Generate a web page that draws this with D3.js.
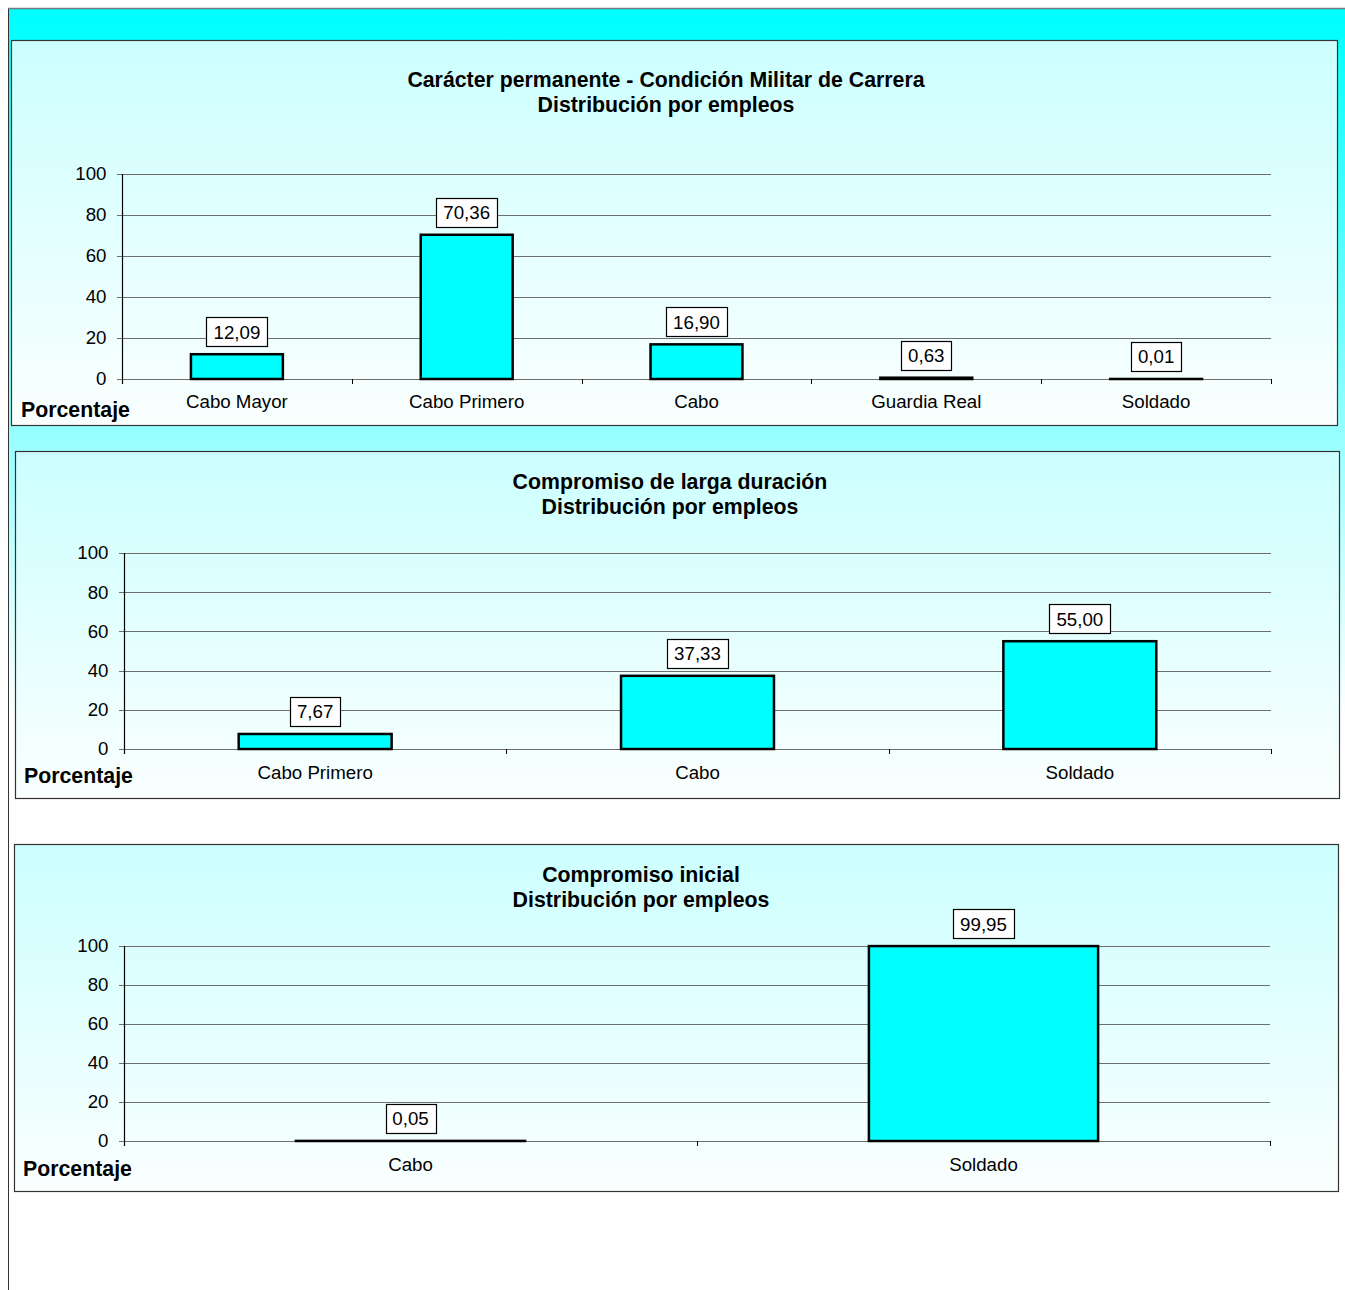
<!DOCTYPE html>
<html>
<head>
<meta charset="utf-8">
<script src="https://cdn.jsdelivr.net/npm/d3@7"></script>
<style>
  body { margin: 0; background: #fff; }
  svg { display: block; font-family: Arial, "Liberation Sans", sans-serif; }
</style>
</head>
<body>
<script>
"use strict";
(function(){
    // chart 1
    const titles1 = ["Carácter permanente - Condición Militar de Carrera", "Distribución por empleos"];
    const cats1 = ["Cabo Mayor", "Cabo Primero", "Cabo", "Guardia Real", "Soldado"];
    const vals1 = [12.09, 70.36, 16.90, 0.63, 0.01];

    // chart 2
    const titles2 = ["Compromiso de larga duración", "Distribución por empleos"];
    const cats2 = ["Cabo Primero", "Cabo", "Soldado"];
    const vals2 = [7.67, 37.33, 55.00];

    // chart 3
    const titles3 = ["Compromiso inicial", "Distribución por empleos"];
    const cats3 = ["Cabo", "Soldado"];
    const vals3 = [0.05, 99.95];

    const yTicks = [0, 20, 40, 60, 80, 100];
    const yLabel = "Porcentaje";

    const W = 1345, H = 1290;

    const svg = d3.select("body").append("svg")
        .attr("width", W)
        .attr("height", H);

    const defs = svg.append("defs");
    const outerGrad = defs.append("linearGradient")
        .attr("id", "outerGrad")
        .attr("gradientUnits", "userSpaceOnUse")
        .attr("x1", 0).attr("y1", 20).attr("x2", 0).attr("y2", 720);
    outerGrad.append("stop").attr("offset", "0").attr("stop-color", "#00ffff");
    outerGrad.append("stop").attr("offset", "1").attr("stop-color", "#ffffff");

    const panelGrad = defs.append("linearGradient")
        .attr("id", "panelGrad")
        .attr("x1", 0).attr("y1", 0).attr("x2", 0).attr("y2", 1);
    panelGrad.append("stop").attr("offset", "0").attr("stop-color", "#ccffff");
    panelGrad.append("stop").attr("offset", "1").attr("stop-color", "#fafffe");

    // outer frame
    svg.append("rect")
        .attr("x", 8.5).attr("y", 8.5)
        .attr("width", W + 10).attr("height", H + 10)
        .attr("fill", "url(#outerGrad)")
        .attr("stroke", "#333")
        .attr("stroke-width", 1);
    svg.append("line")
        .attr("x1", 8).attr("x2", W).attr("y1", 8.5).attr("y2", 8.5)
        .attr("stroke", "#777").attr("stroke-width", 1.5);

    drawChart({
        titles: titles1, cats: cats1, vals: vals1,
        panel: { x: 11, y: 40, w: 1326, h: 385 },
        plot: { left: 122, right: 1271, top: 174, bottom: 379 },
        titleX: 666, titleY: 80,
        catY: 401, labelPos: { x: 21, y: 410 }
    });

    drawChart({
        titles: titles2, cats: cats2, vals: vals2,
        panel: { x: 15, y: 451, w: 1324, h: 347 },
        plot: { left: 124, right: 1271, top: 553, bottom: 749 },
        titleX: 670, titleY: 482,
        catY: 772, labelPos: { x: 24, y: 776 }
    });

    drawChart({
        titles: titles3, cats: cats3, vals: vals3,
        panel: { x: 14, y: 844, w: 1324, h: 347 },
        plot: { left: 124, right: 1270, top: 946, bottom: 1141 },
        titleX: 641, titleY: 875,
        catY: 1164, labelPos: { x: 23, y: 1169 }
    });

    function drawChart(cfg) {
        const g = svg.append("g");
        const p = cfg.plot;

        g.append("rect")
            .attr("x", cfg.panel.x + 0.5).attr("y", cfg.panel.y + 0.5)
            .attr("width", cfg.panel.w).attr("height", cfg.panel.h)
            .attr("fill", "url(#panelGrad)")
            .attr("stroke", "#333")
            .attr("stroke-width", 1.2);

        cfg.titles.forEach((t, i) => {
            g.append("text")
                .attr("x", cfg.titleX)
                .attr("y", cfg.titleY + i * 25)
                .attr("text-anchor", "middle")
                .attr("dominant-baseline", "central")
                .style("font-size", "21.3px")
                .style("font-weight", "bold")
                .text(t);
        });

        const scaleX = d3.scaleBand()
            .domain(cfg.cats)
            .range([p.left, p.right])
            .paddingInner(0.6)
            .paddingOuter(0.3);

        const scaleY = d3.scaleLinear()
            .domain([0, 100])
            .range([p.bottom, p.top]);

        // grid lines
        g.selectAll(".grid")
            .data(yTicks)
            .enter()
            .append("line")
            .attr("x1", p.left - 5)
            .attr("x2", p.right)
            .attr("y1", d => Math.round(scaleY(d)) + 0.5)
            .attr("y2", d => Math.round(scaleY(d)) + 0.5)
            .attr("stroke", "#6e6e6e")
            .attr("stroke-width", 1.2);

        // y axis
        const yAxis = d3.axisLeft(scaleY)
            .tickValues(yTicks)
            .tickSize(0)
            .tickPadding(16);
        const ya = g.append("g")
            .attr("transform", `translate(${p.left + 0.5},0)`)
            .call(yAxis);
        ya.select(".domain").remove();
        ya.selectAll("text")
            .style("font-size", "18.7px")
            .style("font-family", "Arial, 'Liberation Sans', sans-serif")
            .attr("fill", "#000");

        g.append("line")
            .attr("x1", p.left + 0.5).attr("x2", p.left + 0.5)
            .attr("y1", p.top).attr("y2", p.bottom + 5)
            .attr("stroke", "#000").attr("stroke-width", 1.2);

        // category separators
        const step = (p.right - p.left) / cfg.cats.length;
        const sepData = d3.range(1, cfg.cats.length + 1).map(i => p.left + i * step);
        g.selectAll(".sep")
            .data(sepData)
            .enter()
            .append("line")
            .attr("x1", d => Math.round(d) + 0.5)
            .attr("x2", d => Math.round(d) + 0.5)
            .attr("y1", p.bottom)
            .attr("y2", p.bottom + 5)
            .attr("stroke", "#000")
            .attr("stroke-width", 1);

        // bars
        const data = cfg.cats.map((c, i) => ({ cat: c, val: cfg.vals[i] }));
        g.selectAll(".bar")
            .data(data)
            .enter()
            .append("rect")
            .attr("x", d => scaleX(d.cat))
            .attr("y", d => scaleY(d.val))
            .attr("width", scaleX.bandwidth())
            .attr("height", d => scaleY(0) - scaleY(d.val))
            .attr("fill", "#00ffff")
            .attr("stroke", "#000")
            .attr("stroke-width", 2.5);

        // value labels
        const lab = g.selectAll(".lab")
            .data(data)
            .enter()
            .append("g");
        lab.append("rect")
            .attr("class", "box")
            .attr("fill", "#fff")
            .attr("stroke", "#000")
            .attr("stroke-width", 1.2);
        lab.append("text")
            .attr("x", d => scaleX(d.cat) + scaleX.bandwidth() / 2)
            .attr("y", d => scaleY(d.val) - 22)
            .attr("text-anchor", "middle")
            .attr("dominant-baseline", "central")
            .style("font-size", "18.7px")
            .text(d => d.val.toFixed(2).replace(".", ","));
        lab.each(function(d) {
            const t = d3.select(this).select("text").node().getBBox();
            const bw = Math.round(t.width + 14);
            const cx = scaleX(d.cat) + scaleX.bandwidth() / 2;
            d3.select(this).select("rect")
                .attr("x", Math.round(cx - bw / 2) + 0.5)
                .attr("y", Math.round(scaleY(d.val) - 37) + 0.5)
                .attr("width", bw)
                .attr("height", 29);
        });

        // category labels
        g.selectAll(".cat")
            .data(cfg.cats)
            .enter()
            .append("text")
            .attr("x", d => scaleX(d) + scaleX.bandwidth() / 2)
            .attr("y", cfg.catY)
            .attr("text-anchor", "middle")
            .attr("dominant-baseline", "central")
            .style("font-size", "18.7px")
            .text(d => d);

        g.append("text")
            .attr("x", cfg.labelPos.x)
            .attr("y", cfg.labelPos.y)
            .attr("dominant-baseline", "central")
            .style("font-size", "21.3px")
            .style("font-weight", "bold")
            .text(yLabel);
    }
})()
</script>
</body>
</html>
